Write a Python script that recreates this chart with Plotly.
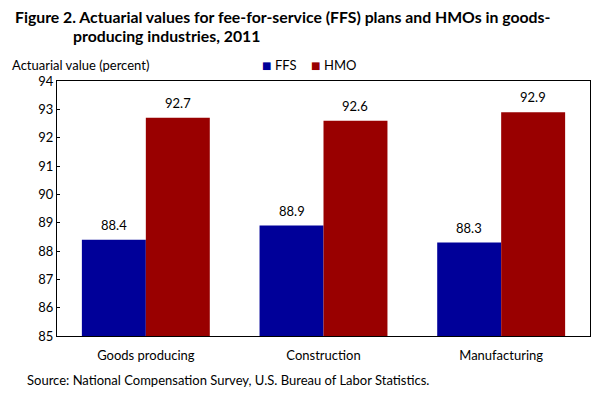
import plotly.graph_objects as go

categories = ["Goods producing", "Construction", "Manufacturing"]
ffs = [88.4, 88.9, 88.3]
hmo = [92.7, 92.6, 92.9]
y_ticks = [85, 86, 87, 88, 89, 90, 91, 92, 93, 94]
series_names = ["FFS", "HMO"]

FONT = "Lato"
BLUE = "#000099"
RED = "#990000"

W, H = 614, 394
L, R, T, B = 57, 24, 81, 58
pw, ph = W - L - R, H - T - B

def px(x):
    return (x - L) / pw

def py(y):
    return 1 - (y - T) / ph

fig = go.Figure()
fig.add_trace(go.Bar(name=series_names[0], x=categories, y=ffs, marker_color=BLUE, marker_line_width=0))
fig.add_trace(go.Bar(name=series_names[1], x=categories, y=hmo, marker_color=RED, marker_line_width=0))

annots = []
for i, (a, b) in enumerate(zip(ffs, hmo)):
    annots.append(dict(x=i - 0.18, y=a, xref="x", yref="y", text=f"{a:.1f}", showarrow=False,
                       yshift=15, font=dict(family=FONT, size=13, color="black")))
    annots.append(dict(x=i + 0.18, y=b, xref="x", yref="y", text=f"{b:.1f}", showarrow=False,
                       yshift=15, font=dict(family=FONT, size=13, color="black")))

def txt(x, y, text, size=13, anchor="left", family=FONT, color="black"):
    return dict(x=px(x), y=py(y), xref="paper", yref="paper", text=text, showarrow=False,
                xanchor=anchor, yanchor="middle", font=dict(family=family, size=size, color=color))

annots += [
    txt(13, 16, "<b>Figure 2. Actuarial values for fee-for-service (FFS) plans and HMOs in goods-</b>", size=15.8),
    txt(71, 36, "<b>producing industries, 2011</b>", size=15.8),
    txt(10, 65, "Actuarial value (percent)"),
    txt(25, 380, "Source: National Compensation Survey, U.S. Bureau of Labor Statistics."),
    # legend
    txt(266.3, 65, "■", size=10, anchor="center", family="DejaVu Sans", color=BLUE),
    txt(273, 65, series_names[0]),
    txt(315.3, 65, "■", size=10, anchor="center", family="DejaVu Sans", color=RED),
    txt(322, 65, series_names[1]),
]

fig.update_layout(
    width=W, height=H,
    margin=dict(l=L, r=R, t=T, b=B, pad=0),
    paper_bgcolor="white", plot_bgcolor="white",
    barmode="group", bargap=0.28, bargroupgap=0,
    font=dict(family=FONT, size=13, color="black"),
    showlegend=False,
    annotations=annots,
)
fig.update_yaxes(range=[85, 94], tickvals=y_ticks, showgrid=False, zeroline=False,
                 showline=True, linecolor="black", linewidth=1, mirror=True,
                 ticks="inside", ticklen=3, tickcolor="black", tickfont=dict(family=FONT, size=13))
fig.update_xaxes(showgrid=False, showline=True, linecolor="black", linewidth=1, mirror=True,
                 ticks="", ticklabelstandoff=7, tickfont=dict(family=FONT, size=13))

fig.write_html("out.html", config={"displayModeBar": False},
               post_script="document.body.style.margin='0';document.body.style.padding='0';")
